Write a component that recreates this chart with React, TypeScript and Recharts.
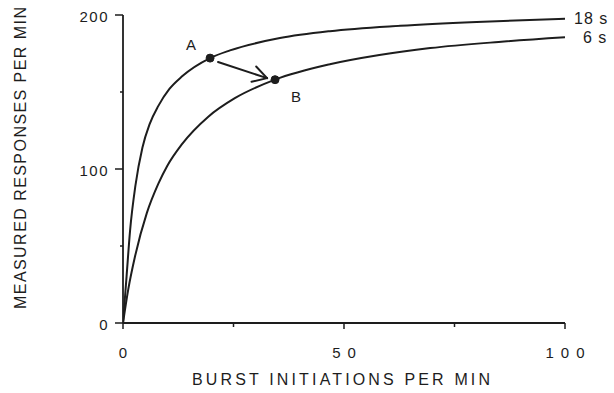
import {
  LineChart,
  Line,
  XAxis,
  YAxis,
  ReferenceDot,
  ReferenceLine,
} from "recharts";

const BURSTS_18S = [0, 0.8, 1.6, 2.8, 4.4, 6, 8, 10.5, 13.3, 19.7, 24.2, 35.5, 46.8, 62.7, 80, 100];
const RESP_18S = [0, 30, 60, 89, 114, 129, 141, 152, 160, 172, 177, 185, 189.5, 193, 195.5, 197.5];

const BURSTS_6S = [0, 1.2, 2.7, 5.4, 8, 10, 13.3, 19.3, 25.3, 34.4, 46.8, 58, 69.5, 85, 100];
const RESP_6S = [0, 22, 43, 71.5, 90.5, 102, 116, 134, 146, 158, 168, 174, 178.5, 182.5, 185.5];

const X_TICKS = [0, 25, 50, 75, 100];
const X_LABELED = [0, 50, 100];
const Y_TICKS = [0, 50, 100, 150, 200];
const Y_LABELED = [0, 100, 200];

const POINT_A = { x: 19.7, y: 172, label: "A" };
const POINT_B = { x: 34.4, y: 158, label: "B" };
const ARROW = [
  { x: 21.5, y: 169.5 },
  { x: 32.6, y: 159 },
];

const SERIES_LABELS = ["18 s", "6 s"];

const toPoints = (xs: number[], ys: number[]) => xs.map((x, i) => ({ x, y: ys[i] }));
const data18 = toPoints(BURSTS_18S, RESP_18S);
const data6 = toPoints(BURSTS_6S, RESP_6S);

const INK = "#1d1d1d";
const FONT = "'Liberation Sans', Arial, sans-serif";

function XTick({ x, y, payload }: any) {
  const major = X_LABELED.includes(payload.value);
  return (
    <g>
      <line x1={x} x2={x} y1={y} y2={y + (major ? 6 : 4)} stroke={INK} strokeWidth={1.5} />
      {major && (
        <text x={x} y={y + 35} textAnchor="middle" fontSize={15} letterSpacing={7} fill={INK} fontFamily={FONT} dx={3.5}>
          {payload.value}
        </text>
      )}
    </g>
  );
}

function YTick({ x, y, payload }: any) {
  const major = Y_LABELED.includes(payload.value);
  return (
    <g>
      <line x1={x - (major ? 8 : 3)} x2={x} y1={y} y2={y} stroke={INK} strokeWidth={1.5} />
      {major && (
        <text x={x - 14} y={y + 7} textAnchor="end" fontSize={15} letterSpacing={1.5} fill={INK} fontFamily={FONT}>
          {payload.value}
        </text>
      )}
    </g>
  );
}

function Arrow(props: any) {
  const { x1, y1, x2, y2 } = props;
  const ang = Math.atan2(y2 - y1, x2 - x1);
  const len = 16;
  const w1 = ang + Math.PI - 0.55;
  const w2 = ang + Math.PI + 0.5;
  return (
    <g stroke={INK} strokeWidth={2} fill="none" strokeLinecap="round">
      <line x1={x1} y1={y1} x2={x2} y2={y2} />
      <line x1={x2} y1={y2} x2={x2 + len * Math.cos(w1)} y2={y2 + len * Math.sin(w1)} />
      <line x1={x2} y1={y2} x2={x2 + len * Math.cos(w2)} y2={y2 + len * Math.sin(w2)} />
    </g>
  );
}

const pointLabel = (text: string, dx: number, dy: number) => (p: any) => {
  const vb = p.viewBox;
  const cx = vb.x + vb.width / 2;
  const cy = vb.y + vb.height / 2;
  return (
    <text x={cx + dx} y={cy + dy} textAnchor="middle" fontSize={15} fill={INK} fontFamily={FONT}>
      {text}
    </text>
  );
};

const seriesLabel = (text: string, dx: number, dy: number) => (p: any) => {
  const vb = p.viewBox;
  return (
    <text x={vb.x + vb.width / 2 + dx} y={vb.y + vb.height / 2 + dy} fontSize={16} letterSpacing={1} fill={INK} fontFamily={FONT}>
      {text}
    </text>
  );
};

export default function App() {
  const last18 = data18[data18.length - 1];
  const last6 = data6[data6.length - 1];
  return (
    <div style={{ position: "absolute", left: 0, top: 0, width: 614, height: 393, background: "#fff" }}>
      <LineChart width={614} height={393} margin={{ top: 15, right: 49, bottom: 40, left: 63 }}>
        <XAxis
          type="number"
          dataKey="x"
          domain={[0, 100]}
          ticks={X_TICKS}
          tick={<XTick />}
          tickSize={0}
          tickMargin={0}
          height={30}
          allowDataOverflow
          axisLine={{ stroke: INK, strokeWidth: 1.8 }}
          label={{
            content: (p: any) => (
              <text
                x={p.viewBox.x + p.viewBox.width / 2 - 3}
                y={p.viewBox.y + 62}
                textAnchor="middle"
                fontSize={16}
                textLength={298}
                lengthAdjust="spacing"
                fill={INK}
                fontFamily={FONT}
              >
                BURST INITIATIONS PER MIN
              </text>
            ),
          }}
        />
        <YAxis
          type="number"
          dataKey="y"
          domain={[0, 200]}
          ticks={Y_TICKS}
          tick={<YTick />}
          tickSize={0}
          tickMargin={0}
          width={60}
          allowDataOverflow
          axisLine={{ stroke: INK, strokeWidth: 1.8 }}
          label={{
            content: (p: any) => {
              const cx = p.viewBox.x - 43;
              const cy = p.viewBox.y + p.viewBox.height / 2 - 11;
              return (
                <text
                  x={cx}
                  y={cy}
                  transform={`rotate(-90 ${cx} ${cy})`}
                  textAnchor="middle"
                  dominantBaseline="central"
                  fontSize={16}
                  textLength={302}
                  lengthAdjust="spacing"
                  fill={INK}
                  fontFamily={FONT}
                >
                  MEASURED RESPONSES PER MIN
                </text>
              );
            },
          }}
        />
        <Line
          data={data18}
          dataKey="y"
          type="monotone"
          stroke={INK}
          strokeWidth={2}
          dot={false}
          activeDot={false}
          isAnimationActive={false}
        />
        <Line
          data={data6}
          dataKey="y"
          type="monotone"
          stroke={INK}
          strokeWidth={2}
          dot={false}
          activeDot={false}
          isAnimationActive={false}
        />
        <ReferenceLine segment={ARROW} shape={<Arrow />} />
        <ReferenceDot x={POINT_A.x} y={POINT_A.y} r={4} fill={INK} stroke={INK} label={{ content: pointLabel(POINT_A.label, -19, -8) }} />
        <ReferenceDot x={POINT_B.x} y={POINT_B.y} r={4} fill={INK} stroke={INK} label={{ content: pointLabel(POINT_B.label, 21, 22) }} />
        <ReferenceDot x={last18.x} y={last18.y} r={0} fill="none" stroke="none" label={{ content: seriesLabel(SERIES_LABELS[0], 9, 5) }} />
        <ReferenceDot x={last6.x} y={last6.y} r={0} fill="none" stroke="none" label={{ content: seriesLabel(SERIES_LABELS[1], 18, 6) }} />
      </LineChart>
    </div>
  );
}
